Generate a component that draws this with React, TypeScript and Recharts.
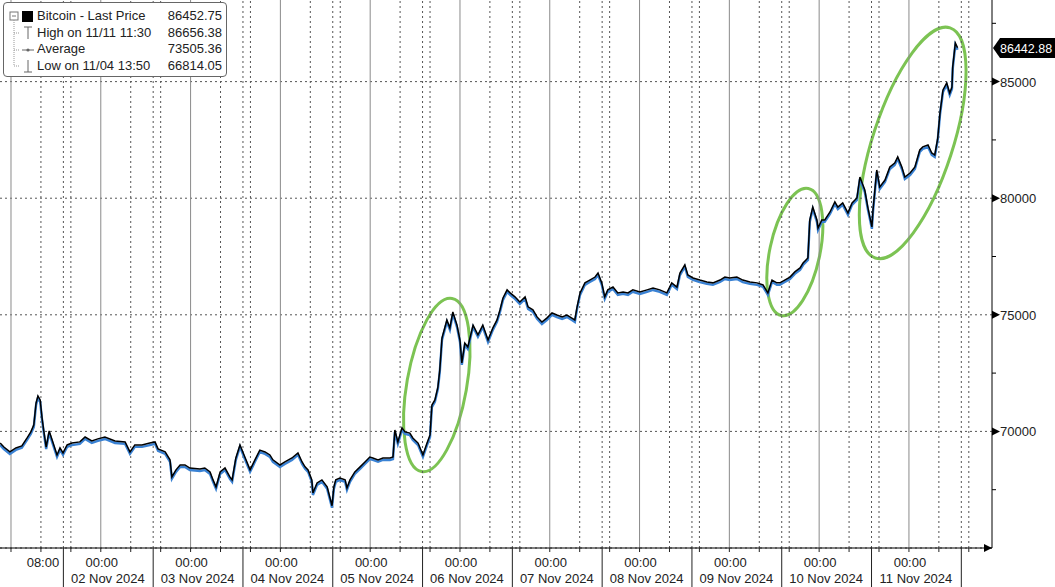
import React from 'react';
import { ComposedChart, Line, XAxis, YAxis, ReferenceLine, ReferenceArea } from 'recharts';

// hours since 01 Nov 2024 00:00
const HOURS = [
  -2.9, -1.9, -0.3, 1.3, 2.9, 4.3, 5.3, 6.1, 6.7, 7.2, 7.8, 8.3, 8.8, 9.4, 10.2, 11.0, 12.3, 13.1, 13.9, 15.0,
  16.3, 18.4, 19.8, 21.6, 23.2, 25.1, 27.8, 30.5, 31.8, 33.1, 35.0, 37.1, 38.5, 39.3, 41.2, 42.5, 43.0, 44.1, 45.2, 46.5,
  47.8, 50.5, 51.8, 53.2, 54.0, 54.8, 55.9, 57.2, 58.5, 59.1, 60.1, 61.2, 62.5, 63.9, 65.2, 66.5, 67.9, 69.2, 70.0, 71.9,
  73.2, 75.1, 76.7, 77.8, 78.6, 79.4, 80.4, 80.7, 81.8, 83.1, 84.5, 85.8, 86.3, 86.8, 87.9, 89.3, 89.8, 90.6, 91.9, 93.3,
  94.6, 95.9, 96.7, 98.1, 99.4, 101.3, 102.1, 102.6, 103.4, 104.5, 105.3, 106.6, 107.4, 108.8, 110.1, 111.2, 112.0, 112.5, 113.3, 114.1,
  114.6, 115.2, 116.0, 116.5, 117.3, 118.1, 119.2, 120.0, 120.5, 121.3, 122.1, 123.5, 124.8, 126.1, 127.5, 128.8, 129.9, 130.7, 131.5, 132.6,
  133.4, 134.7, 136.0, 137.4, 138.2, 139.5, 140.6, 141.9, 143.2, 144.6, 145.9, 147.3, 148.6, 149.9, 150.7, 151.3, 152.1, 153.4, 154.7, 156.1,
  156.9, 157.9, 158.7, 159.5, 160.9, 162.2, 163.6, 164.9, 166.2, 168.1, 170.0, 171.6, 173.4, 175.3, 176.6, 178.0, 178.8, 180.1, 180.9, 182.3,
  184.1, 186.0, 187.6, 189.5, 190.8, 192.1, 194.0, 195.6, 197.5, 199.4, 201.0, 202.3, 203.4, 204.7, 205.5, 206.8, 208.2, 209.5, 210.9, 211.7,
  213.0, 213.5, 214.3, 215.4, 215.7, 216.7, 217.5, 218.9, 220.2, 221.0, 222.3, 223.7, 224.8, 226.1, 226.9, 228.2, 229.0, 230.1, 230.4, 231.4,
  232.2, 233.6, 234.9, 236.2, 237.0, 238.1, 238.9, 240.3, 241.6, 242.9, 243.7, 245.1, 246.1, 246.9, 247.7, 248.3, 249.1, 250.1, 250.9, 251.5,
  251.7, 252.4, 253.0,
];

const PRICES = [
  69500, 69330, 69120, 69290, 69380, 69720, 69980, 70280, 71220, 71520, 71350, 70580, 69980, 69330, 70020, 69630, 68990, 69290, 69080, 69420,
  69500, 69550, 69760, 69590, 69680, 69760, 69590, 69550, 69120, 69420, 69420, 69500, 69550, 69250, 69120, 68780, 68050, 68350, 68560, 68560,
  68430, 68390, 68430, 68260, 67920, 67620, 68260, 68430, 68050, 67920, 68860, 69420, 68900, 68350, 68780, 69200, 69120, 68990, 68780, 68560,
  68690, 68860, 69080, 68690, 68480, 68350, 67920, 67360, 67790, 67920, 67620, 66814, 67620, 67920, 68000, 67920, 67580, 67920, 68260, 68480,
  68690, 68900, 68860, 68780, 68860, 68860, 68900, 70060, 69550, 70150, 69980, 69930, 69720, 69500, 68990, 69500, 69850, 71130, 71350, 71900,
  72630, 74010, 74480, 74780, 74440, 75120, 74560, 73920, 72940, 73790, 73620, 74560, 74140, 74560, 73920, 74440, 74780, 75210, 75720, 76070,
  75940, 75770, 75550, 75770, 75340, 75210, 74910, 74690, 74860, 75080, 74990, 74910, 74990, 74860, 74780, 75340, 75940, 76370, 76490, 76620,
  76790, 76370, 75770, 76070, 76190, 75940, 75980, 75940, 76070, 75980, 76070, 76150, 76070, 75940, 76370, 76190, 76790, 77140, 76710, 76580,
  76490, 76410, 76370, 76490, 76620, 76580, 76620, 76490, 76410, 76370, 76280, 75940, 76490, 76370, 76370, 76490, 76620, 76840, 77010, 77220,
  77440, 79070, 79620, 79070, 78720, 79070, 79070, 79410, 79840, 79620, 79800, 79370, 79800, 80010, 80910, 80350, 79620, 78770, 79500, 81210,
  80480, 80780, 81340, 81510, 81770, 81340, 80910, 81080, 81340, 82070, 82200, 82280, 81940, 81850, 82580, 83660, 84640, 84940, 84510, 84770,
  85630, 86656, 86450,
];

const DAY_LABELS = [
  '02 Nov 2024', '03 Nov 2024', '04 Nov 2024', '05 Nov 2024', '06 Nov 2024',
  '07 Nov 2024', '08 Nov 2024', '09 Nov 2024', '10 Nov 2024', '11 Nov 2024',
];

const Y_TICKS = [65000, 67500, 70000, 72500, 75000, 77500, 80000, 82500, 85000, 87500];
const Y_GRID = [65000, 70000, 75000, 80000, 85000];

const LAST_PRICE = 86452.75;
const LAST_TAG = 86442.88;
const HIGH_PRICE = 86656.38;
const AVG_PRICE = 73505.36;
const LOW_PRICE = 66814.05;

// green hand-drawn circles: time range, price range, tilt
const HIGHLIGHTS = [
  { x1: 105.8, x2: 121.8, y1: 68220, y2: 75760, tilt: 10 },
  { x1: 202.8, x2: 216.2, y1: 74910, y2: 80480, tilt: 12 },
  { x1: 230.3, x2: 251.7, y1: 77180, y2: 87560, tilt: 18 },
];

const X_DOMAIN: [number, number] = [-2.94, 262.2];
const Y_DOMAIN: [number, number] = [65000, 88500];
const BLUE_SHIFT = 85; // blue trace sits ~2px under the black one

const data = HOURS.map((h, i) => ({ h, price: PRICES[i] }));

const xTicks: number[] = [];
for (let d = 0; d <= 10; d++) {
  [0, 8, 14, 16].forEach((hr) => {
    const t = d * 24 + hr;
    if (t <= X_DOMAIN[1]) xTicks.push(t);
  });
}

const midnights = xTicks.filter((t) => t % 24 === 0);
const dotted = xTicks.filter((t) => t % 24 !== 0);

const FONT = '"Liberation Sans", Arial, sans-serif';

function TimeTick({ x, y, payload }: any) {
  const t = payload.value as number;
  const hr = t % 24;
  const day = Math.round((t - hr) / 24);
  if (hr === 14) {
    return <line x1={x} x2={x} y1={y} y2={y + 40} stroke="#222" strokeWidth={1} />;
  }
  if (hr === 0) {
    const label = DAY_LABELS[day - 1];
    return (
      <g>
        <line x1={x} x2={x} y1={y} y2={y + 4} stroke="#222" />
        {label && (
          <>
            <text x={x + 1} y={y + 19} textAnchor="middle" fontSize={13} fill="#222">00:00</text>
            <text x={x + 7} y={y + 35} textAnchor="middle" fontSize={13} fill="#222">{label}</text>
          </>
        )}
      </g>
    );
  }
  return (
    <g>
      <line x1={x} x2={x} y1={y} y2={y + 4} stroke="#222" />
      {day === 0 && hr === 8 && (
        <text x={x + 2} y={y + 19} textAnchor="middle" fontSize={13} fill="#222">08:00</text>
      )}
    </g>
  );
}

function PriceTick({ x, y, payload }: any) {
  const v = payload.value as number;
  if (v === 65000) {
    return <path d={`M${x - 8},${y - 4} L${x},${y} L${x - 8},${y + 4} Z`} fill="#000" />;
  }
  if (v % 5000 !== 0) {
    return <line x1={x} x2={x + 4} y1={y} y2={y} stroke="#000" />;
  }
  return (
    <g>
      <path d={`M${x},${y - 4} L${x + 8},${y} L${x},${y + 4} Z`} fill="#000" />
      <text x={x + 8} y={y + 5} fontSize={13} fill="#222">{v}</text>
    </g>
  );
}

function LastTag(props: any) {
  const { viewBox } = props;
  const x0 = viewBox.x + viewBox.width;
  const yc = viewBox.y;
  return (
    <g>
      <path
        d={`M${x0 + 1},${yc} L${x0 + 8},${yc - 10} L${x0 + 63},${yc - 10} L${x0 + 63},${yc + 10} L${x0 + 8},${yc + 10} Z`}
        fill="#000"
      />
      <text x={x0 + 8} y={yc + 5} fontSize={12.5} fill="#fff">{LAST_TAG.toFixed(2)}</text>
    </g>
  );
}

function Ellipse(tilt: number) {
  return (p: any) => {
    const cx = p.x + p.width / 2;
    const cy = p.y + p.height / 2;
    return (
      <ellipse
        cx={cx}
        cy={cy}
        rx={Math.abs(p.width) / 2}
        ry={Math.abs(p.height) / 2}
        fill="none"
        stroke="#7cc353"
        strokeWidth={3}
        transform={`rotate(${tilt} ${cx} ${cy})`}
      />
    );
  };
}

const LEGEND_ROWS = [
  { label: 'Bitcoin - Last Price', value: LAST_PRICE },
  { label: 'High on 11/11 11:30', value: HIGH_PRICE },
  { label: 'Average', value: AVG_PRICE },
  { label: 'Low on 11/04 13:50', value: LOW_PRICE },
];

function LegendBox() {
  return (
    <div
      style={{
        position: 'absolute',
        left: 3,
        top: 2,
        width: 222,
        height: 73,
        border: '1px solid #666',
        borderRadius: 4,
        background: '#fff',
        fontFamily: FONT,
        fontSize: 13,
        color: '#222',
      }}
    >
      <svg width={36} height={73} style={{ position: 'absolute', left: 0, top: 0 }}>
        <rect x={6} y={9} width={8} height={8} fill="#fff" stroke="#777" />
        <line x1={8} x2={12} y1={13} y2={13} stroke="#777" />
        <line x1={10} x2={10} y1={17} y2={63} stroke="#999" strokeDasharray="1 1" />
        <line x1={10} x2={16} y1={30} y2={30} stroke="#999" strokeDasharray="1 1" />
        <line x1={10} x2={16} y1={47} y2={47} stroke="#999" strokeDasharray="1 1" />
        <line x1={10} x2={16} y1={63} y2={63} stroke="#999" strokeDasharray="1 1" />
        <rect x={18} y={8} width={11} height={11} fill="#000" />
        <line x1={20} x2={28} y1={24} y2={24} stroke="#666" />
        <line x1={24} x2={24} y1={24} y2={36} stroke="#666" />
        <line x1={18} x2={30} y1={47} y2={47} stroke="#666" />
        <circle cx={24} cy={47} r={1.6} fill="#666" />
        <line x1={24} x2={24} y1={57} y2={69} stroke="#666" />
        <line x1={20} x2={28} y1={69} y2={69} stroke="#666" />
      </svg>
      {LEGEND_ROWS.map((r, i) => (
        <div
          key={r.label}
          style={{
            position: 'absolute',
            left: 33,
            right: 4,
            top: 5 + i * 16.6,
            display: 'flex',
            justifyContent: 'space-between',
            lineHeight: '16px',
            whiteSpace: 'nowrap',
          }}
        >
          <span>{r.label}</span>
          <span>{r.value.toFixed(2)}</span>
        </div>
      ))}
    </div>
  );
}

export default function App() {
  return (
    <div style={{ position: 'absolute', left: 0, top: 0, width: 1055, height: 587, background: '#fff', fontFamily: FONT }}>
      <ComposedChart width={1055} height={587} data={data} margin={{ top: 0, right: 0, bottom: 0, left: 0 }}>
        <XAxis
          dataKey="h"
          type="number"
          domain={X_DOMAIN}
          ticks={xTicks}
          tick={<TimeTick />}
          tickLine={false}
          tickSize={0}
          tickMargin={0}
          height={39}
          axisLine={{ stroke: '#000' }}
          allowDataOverflow
          interval={0}
        />
        <YAxis
          yAxisId="p"
          orientation="right"
          type="number"
          domain={Y_DOMAIN}
          ticks={Y_TICKS}
          tick={<PriceTick />}
          tickLine={false}
          tickSize={0}
          tickMargin={0}
          width={63}
          axisLine={{ stroke: '#000' }}
          allowDataOverflow
          interval={0}
        />
        <YAxis
          yAxisId="b"
          orientation="left"
          type="number"
          domain={[Y_DOMAIN[0] + BLUE_SHIFT, Y_DOMAIN[1] + BLUE_SHIFT]}
          width={0}
          hide
          allowDataOverflow
        />
        {Y_GRID.map((v) => (
          <ReferenceLine key={'g' + v} yAxisId="p" y={v} stroke="#555" strokeDasharray="2 3" />
        ))}
        {midnights.map((t) => (
          <ReferenceLine key={'m' + t} yAxisId="p" x={t} stroke="#8a8a8a" />
        ))}
        {dotted.map((t) => (
          <ReferenceLine key={'d' + t} yAxisId="p" x={t} stroke="#555" strokeDasharray="2 3" />
        ))}
        {HIGHLIGHTS.map((a, i) => (
          <ReferenceArea
            key={'e' + i}
            yAxisId="p"
            x1={a.x1}
            x2={a.x2}
            y1={a.y1}
            y2={a.y2}
            ifOverflow="visible"
            shape={Ellipse(a.tilt)}
          />
        ))}
        <Line
          yAxisId="b"
          dataKey="price"
          type="linear"
          stroke="#3a82d4"
          strokeWidth={2.4}
          dot={false}
          activeDot={false}
          isAnimationActive={false}
        />
        <Line
          yAxisId="p"
          dataKey="price"
          type="linear"
          stroke="#000"
          strokeWidth={1.5}
          dot={false}
          activeDot={false}
          isAnimationActive={false}
        />
        <ReferenceLine yAxisId="p" y={LAST_TAG} stroke="none" label={<LastTag />} />
      </ComposedChart>
      <LegendBox />
    </div>
  );
}
